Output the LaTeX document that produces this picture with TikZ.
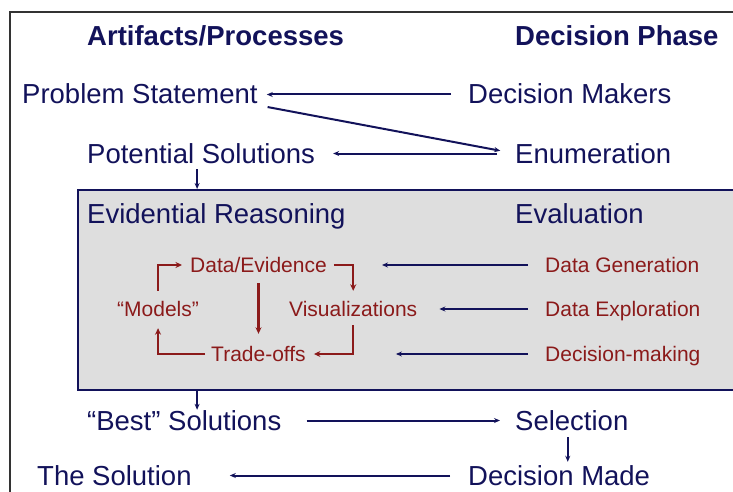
\documentclass[tikz,border=0pt]{standalone}
\usepackage{fontspec}
\setmainfont{Liberation Sans}
\usetikzlibrary{arrows.meta}

\definecolor{navy}{HTML}{12125A}
\definecolor{darkred}{HTML}{8B1A1A}
\definecolor{boxgray}{HTML}{DEDEDE}

\tikzset{
  big/.style={anchor=base west, inner sep=0, text=navy, font=\fontsize{27.5}{30}\selectfont, text height=20pt, text depth=1pt},
  head/.style={big, font=\bfseries\fontsize{27.5}{30}\selectfont},
  small/.style={anchor=base west, inner sep=0, text=darkred, font=\fontsize{21}{24}\selectfont, text height=15pt, text depth=1pt},
  graybox/.style={draw=navy, fill=boxgray, line width=2.2pt, anchor=north west, inner sep=0},
  bluearrow/.style={draw=navy, line width=2pt, -{Stealth[length=6pt,width=5pt]}},
  redarrow/.style={draw=darkred, line width=2.5pt, -{Stealth[length=6.5pt,width=6pt]}},
}

\begin{document}
\begin{tikzpicture}[x=1pt, y=-1pt]
\clip (0,0) rectangle (733,492);
\useasboundingbox (0,0) rectangle (733,492);
\draw[black!80, line width=1.2pt] (10,12) rectangle (760,520);

% evaluation box
\node[graybox, minimum width=700, minimum height=200] (box) at (77,189) {};

% column heads
\node[head] (art) at (87,46) {Artifacts/Processes};
\node[head] (phase) at (515,46) {Decision Phase};

\node[big] (ps) at (22,104) {Problem Statement};
\node[big] (dm) at (468,104) {Decision Makers};
\node[big] (pot) at (87,163) {Potential Solutions};
\node[big] (en) at (515,163) {Enumeration};
\node[big] (er) at (87,223) {Evidential Reasoning};
\node[big] (ev) at (515,223) {Evaluation};

\node[small] (de) at (190,272) {Data/Evidence};
\node[small] (gen) at (545,272) {Data Generation};
\node[small] (mod) at (117,316) {“Models”};
\node[small] (vis) at (289,316) {Visualizations};
\node[small] (expl) at (545,316) {Data Exploration};
\node[small] (to) at (211,361) {Trade-offs};
\node[small] (dmk) at (545,361) {Decision-making};

\node[big] (best) at (87,430) {“Best” Solutions};
\node[big] (sel) at (515,430) {Selection};
\node[big] (sol) at (37,485) {The Solution};
\node[big] (made) at (468,485) {Decision Made};

% decision phase connectors
\draw[bluearrow, shorten <=17pt, shorten >=9pt] (dm.west) -- (ps.east);
\draw[bluearrow, shorten <=10pt, shorten >=15pt] (ps.south east) -- (en.west);
\draw[bluearrow, shorten <=18pt, shorten >=18pt] (en.west) -- (pot.east);
\draw[bluearrow, shorten <=5pt] ([xshift=-4pt]pot.south) -- ([xshift=-4pt]pot.south |- box.north);
\draw[bluearrow, shorten <=17pt, shorten >=55pt] (gen.west) -- (de.east);
\draw[bluearrow, shorten <=17pt, shorten >=22pt] (expl.west) -- (vis.east);
\draw[bluearrow, shorten <=17pt, shorten >=90pt] (dmk.west) -- (to.east);
\draw[bluearrow] ([xshift=-4pt]pot.south |- box.south) -- ([xshift=-4pt]pot.south |- best.north);
\draw[bluearrow, shorten <=25pt, shorten >=15pt] (best.east) -- (sel.west);
\draw[bluearrow, shorten <=6pt, shorten >=3pt] ([xshift=-4pt]sel.south) -- ([xshift=-4pt]sel.south |- made.north);
\draw[bluearrow, shorten <=18pt, shorten >=38pt] (made.west) -- (sol.east);

% reasoning cycle
\draw[redarrow, shorten <=10pt, shorten >=8pt] (mod.north) |- (de.west);
\draw[redarrow, shorten <=7pt, shorten >=10pt] (de.east) -| (vis.north);
\draw[redarrow, shorten <=10pt, shorten >=12pt] (de.south) -- (de.south |- to.north);
\draw[redarrow, shorten <=8pt, shorten >=8pt] (vis.south) |- (to.east);
\draw[redarrow, shorten <=6pt, shorten >=11pt] (to.west) -| (mod.south);

\end{tikzpicture}
\end{document}
